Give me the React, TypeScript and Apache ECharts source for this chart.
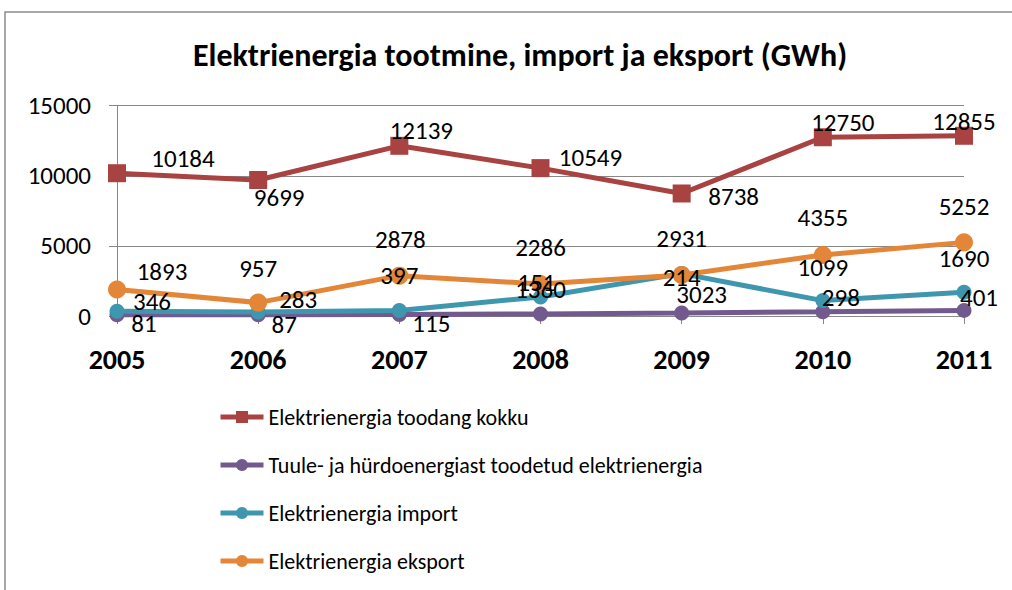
import React, { useEffect, useRef } from "react";
import * as echarts from "echarts";

const years = ["2005", "2006", "2007", "2008", "2009", "2010", "2011"];
const totalProduction = [10184, 9699, 12139, 10549, 8738, 12750, 12855];
const windHydro = [81, 87, 115, 151, 214, 298, 401];
const importValues = [346, 283, 397, 1360, 3023, 1099, 1690];
const exportValues = [1893, 957, 2878, 2286, 2931, 4355, 5252];
const yTicks = [0, 5000, 10000, 15000];

const seriesNames = [
  "Elektrienergia toodang kokku",
  "Tuule- ja hürdoenergiast toodetud elektrienergia",
  "Elektrienergia import",
  "Elektrienergia eksport",
];

// label placement offsets (pixels relative to the point)
const totalOffsets = [[66, -15], [21, 17], [22, -15], [50, -11], [52, 3], [20, -15], [0, -14]];
const windOffsets = [[27, 9], [26, 10], [32, 9], [-4, -31], [0, -35], [18, -14], [15, -13]];
const importOffsets = [[35, -10], [40, -13], [0, -35], [0, -7], [20, 21], [0, -33], [0, -34]];
const exportOffsets = [[45, -18], [0, -34], [1, -36], [0, -36], [0, -36], [0, -37], [0, -36]];

const FONT = "Carlito, Calibri, 'Liberation Sans', Arial, sans-serif";

export default function App() {
  const ref = useRef<HTMLDivElement>(null);
  useEffect(() => {
    document.body.style.margin = "0";
    const chart = echarts.init(ref.current!, null, { renderer: "svg" });
    const mk = (name: string, vals: number[], offs: number[][], color: string, symbol: string, size: number) => ({
      name,
      type: "line",
      data: vals.map((v, i) => ({ value: v, label: { offset: offs[i] } })),
      symbol,
      symbolSize: size,
      showAllSymbol: true,
      lineStyle: { color, width: 5 },
      itemStyle: { color, borderWidth: 0 },
      label: {
        show: true,
        position: "inside",
        color: "#000",
        fontSize: 25,
        fontFamily: FONT,
      },
      emphasis: { disabled: true },
    });
    chart.setOption({
      animation: false,
      title: {
        text: "Elektrienergia tootmine, import ja eksport (GWh)",
        left: 188,
        top: 34,
        textStyle: { fontSize: 32, fontWeight: "bold", color: "#000", fontFamily: FONT },
      },
      graphic: [
        {
          type: "rect",
          shape: { x: 5, y: 12, width: 1200, height: 800 },
          style: { fill: "none", stroke: "#8c8c8c", lineWidth: 1.5 },
          silent: true,
        },
      ],
      legend: {
        orient: "vertical",
        left: 213,
        top: 401,
        itemWidth: 43,
        itemHeight: 15,
        itemGap: 26,
        lineStyle: { width: 5 },
        textStyle: { fontSize: 22, lineHeight: 22, color: "#000", fontFamily: FONT },
        data: seriesNames,
      },
      grid: { left: 117, right: 48, top: 105.7, bottom: 274, containLabel: false },
      xAxis: {
        type: "category",
        data: years,
        boundaryGap: false,
        axisLine: { lineStyle: { color: "#888", width: 1 } },
        axisTick: { show: true, length: 8, lineStyle: { color: "#888" } },
        axisLabel: { fontSize: 28, fontWeight: "bold", color: "#000", fontFamily: FONT, margin: 29 },
      },
      yAxis: {
        type: "value",
        min: yTicks[0],
        max: yTicks[yTicks.length - 1],
        interval: yTicks[1] - yTicks[0],
        axisLine: { show: true, lineStyle: { color: "#888", width: 1 } },
        axisTick: { show: true, length: 8, lineStyle: { color: "#888" } },
        splitLine: { lineStyle: { color: "#888", width: 1 } },
        axisLabel: { fontSize: 25, color: "#000", fontFamily: FONT, margin: 26, formatter: (v: number) => String(v) },
      },
      series: [
        mk(seriesNames[0], totalProduction, totalOffsets, "#A84341", "rect", 18),
        mk(seriesNames[1], windHydro, windOffsets, "#725A8E", "circle", 15),
        mk(seriesNames[2], importValues, importOffsets, "#3E97AE", "circle", 15),
        mk(seriesNames[3], exportValues, exportOffsets, "#E38638", "circle", 18),
      ],
    });
    return () => chart.dispose();
  }, []);
  return <div ref={ref} style={{ width: 1012, height: 590 }} />;
}
